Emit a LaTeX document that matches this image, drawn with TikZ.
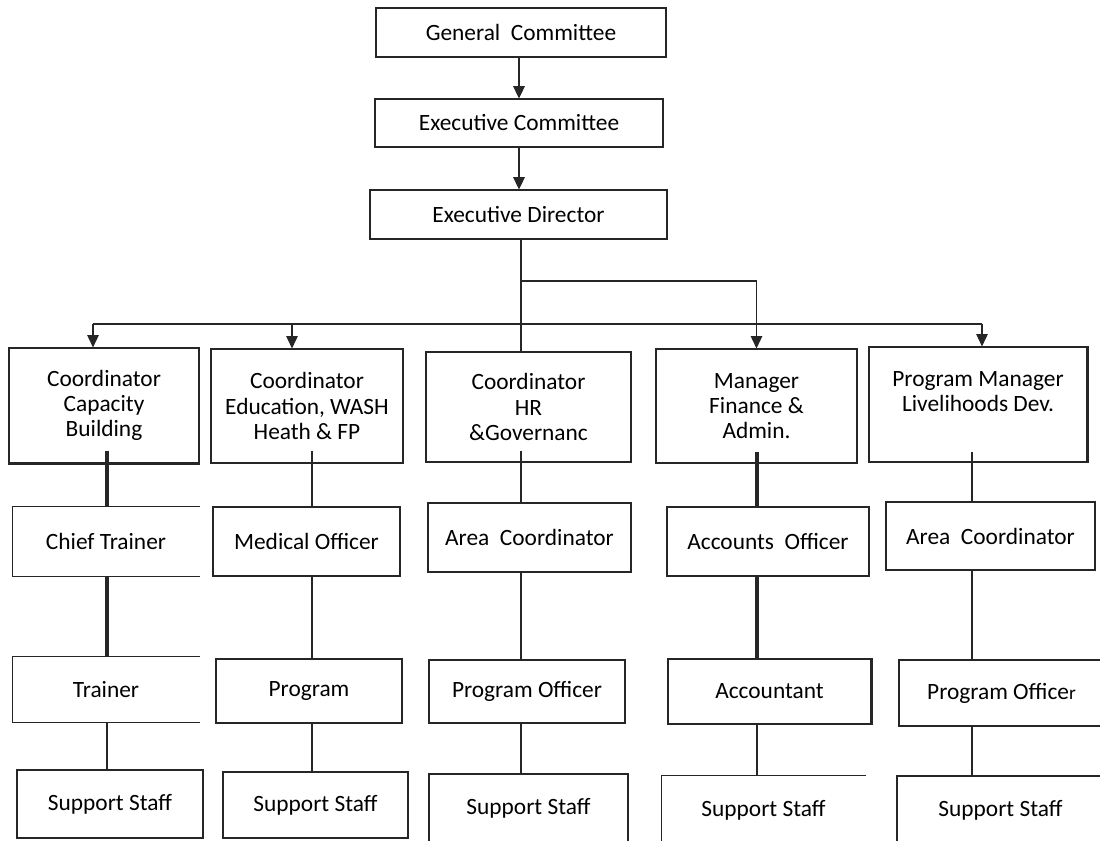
\documentclass[tikz,border=0pt]{standalone}
\usepackage{fontspec}
\setmainfont{Carlito}
\usetikzlibrary{arrows.meta, positioning, calc}

\begin{document}
\begin{tikzpicture}[x=0.02cm, y=-0.02cm, >={Triangle[width=6.5pt, length=7pt]},
  ink/.style={draw=black!85, line width=0.6pt},
  heavy/.style={line width=2pt},
  shaft/.style={line width=1.2pt},
  rim/.style={line width=1.3pt},
  box/.style 2 args={ink, minimum width=#1*0.02cm, minimum height=#2*0.02cm,
    inner sep=0pt, align=center, font=\fontsize{13.3}{14.3}\selectfont},
  bare/.style 2 args={box={#1}{#2}, draw=none}]
  \useasboundingbox (0,0) rectangle (1100,841);
  \clip (0,0) rectangle (1100,841);

  % top of the chart
  \node[box={290}{49}] (gc) at (521,32.5) {General\ \ Committee};
  \node[box={288}{48}] (ec) at (519,123) {Executive Committee};
  \node[box={297}{49}] (ed) at (518.5,214.5) {Executive Director};

  % coordinators
  \node[box={190}{115}] (cb1) at (104,405.5) {Coordinator\\Capacity\\Building};
  \node[box={192}{114}] (cb2) at (307,406) {Coordinator\\Education, WASH\\Heath \& FP};
  \node[box={205}{110}] (cb3) at (528.5,407) {Coordinator\\HR\\\&Governanc};
  \node[box={201}{114}] (cb4) at (756.5,406) {Manager\\Finance \&\\Admin.};
  \node[box={218}{115}] (cb5) at (978,404.5) {Program Manager\\Livelihoods Dev.\\\mbox{}};

  % second row
  \node[bare={186}{69}] (ct) at (106,541.5) {Chief Trainer};
  \node[box={187}{69}] (mo) at (306.5,541.5) {Medical Officer};
  \node[box={203}{69}] (ac3) at (529.5,537.5) {Area\ \ Coordinator};
  \node[box={202}{69}] (ao) at (768,541.5) {Accounts\ \ Officer};
  \node[box={209}{68}] (ac5) at (990.5,536) {Area\ \ Coordinator};

  % third row
  \node[bare={186}{65}] (tr) at (106,689.5) {Trainer};
  \node[box={186}{64}] (pg) at (309,691) {Program};
  \node[box={196}{63}] (po3) at (527,691.5) {Program Officer};
  \node[box={203}{65}] (acc) at (769.5,691.5) {Accountant};
  \node[box={205}{66}] (po5) at (1001.5,693)
    {Program Office{\fontsize{11}{12}\selectfont r}};

  % support staff
  \node[box={186}{68}] (ss1) at (110,804) {Support Staff};
  \node[box={185}{66}] (ss2) at (315.5,805) {Support Staff};
  \node[box={199}{68}] (ss3) at (528.5,808) {Support Staff};
  \node[bare={203}{68}] (ss4) at (763.5,810) {Support Staff};
  \node[box={207}{68}] (ss5) at (1000.5,810) {Support Staff};

  % open sides
  \draw[ink] (ct.north east) -- (ct.north west) -- (ct.south west) -- (ct.south east);
  \draw[ink] (tr.north east) -- (tr.north west) -- (tr.south west) -- (tr.south east);
  \draw[ink] (ss4.north east) -- (ss4.north west) -- (ss4.south west);
  \draw[ink, rim] (cb1.south west) -- (cb1.south east);
  \draw[ink, rim] (cb5.north east) -- (cb5.south east);
  \draw[ink, rim] (acc.north east) -- (acc.south east);

  % top chain
  \draw[ink, shaft, ->] (ec.north |- gc.south) -- (ec.north);
  \draw[ink, shaft, ->] (ec.north |- ec.south) -- (ec.north |- ed.north);

  % branches from the director
  \coordinate (hub) at (521,281);
  \coordinate (b1) at (93,324);
  \coordinate (b2) at (292,324);
  \coordinate (b5) at (982,324);
  \draw[ink] (hub |- ed.south) -- (hub |- cb3.north);
  \draw[ink, ->] (hub) -| (cb4.north);
  \draw[ink] (b1) -- (b5);
  \foreach \b/\c in {b1/cb1, b2/cb2, b5/cb5}
    \draw[ink, ->] (\b) -- (\b |- \c.north);

  % columns
  \coordinate (k1) at (107,451);
  \coordinate (k2) at (312,451);
  \coordinate (k3) at (521,451);
  \coordinate (k4) at (757,452);
  \coordinate (k5) at (972,452);
  \foreach \k/\p/\q/\r in {k1/ct/tr/ss1, k2/mo/pg/ss2, k3/ac3/po3/ss3, k4/ao/acc/ss4, k5/ac5/po5/ss5}
    \draw[ink] (\k) -- (\k |- \p.north) (\k |- \p.south) -- (\k |- \q.north)
      (\k |- \q.south) -- (\k |- \r.north);
  \foreach \k/\p/\q in {k1/ct/tr, k4/ao/acc}
    \draw[ink, heavy] (\k) -- (\k |- \p.north) (\k |- \p.south) -- (\k |- \q.north);
\end{tikzpicture}
\end{document}
